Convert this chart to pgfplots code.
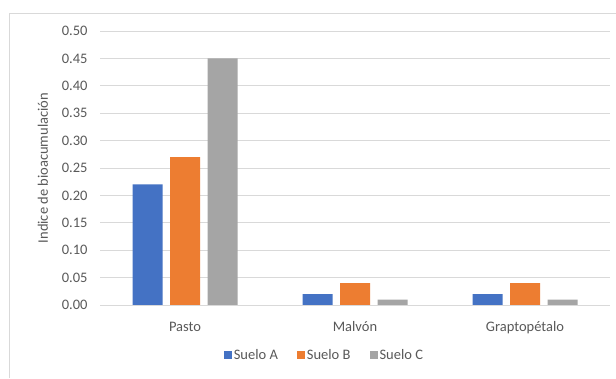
\documentclass[border=0pt]{standalone}
\usepackage{pgfplots}
\pgfplotsset{compat=1.18}
\usepackage{fontspec}
\setmainfont{Carlito}
\definecolor{sA}{HTML}{4472C4}
\definecolor{sB}{HTML}{ED7D31}
\definecolor{sC}{HTML}{A5A5A5}
\definecolor{txt}{HTML}{595959}
\definecolor{gridc}{HTML}{D9D9D9}
\begin{document}
\begin{tikzpicture}
\useasboundingbox (0,0) rectangle (616pt,378pt);
\fill[white] (0,0) rectangle (616pt,378pt);
\draw[gridc, line width=0.8pt] (9pt,0) -- (9pt,365pt) -- (616pt,365pt);
\begin{axis}[
  at={(100pt,73pt)}, anchor=south west,
  scale only axis, width=510pt, height=274pt,
  ybar=7.5pt, bar width=30pt,
  xmin=-0.5, xmax=2.5, ymin=0, ymax=0.5,
  xtick={0,1,2}, xticklabels={Pasto,Malvón,Graptopétalo},
  ytick={0,0.05,...,0.5},
  xtick style={draw=none}, ytick style={draw=none},
  axis line style={draw=none},
  ymajorgrids=true,
  y grid style={gridc, line width=0.8pt},
  font=\fontsize{14.5}{17}\selectfont,
  tick label style={text=txt},
  /pgf/number format/.cd, fixed, fixed zerofill, precision=2, assume math mode=true,
  /pgfplots/.cd,
  yticklabel style={xshift=-9pt},
  xticklabel style={yshift=-9pt},
  ylabel={Indice de bioacumulación},
  ylabel style={at={(axis description cs:-0.112,0.5)}, anchor=center, text=txt},
  legend columns=-1,
  legend style={draw=none, at={(0.44,-0.183)}, anchor=center, text=txt,
    font=\fontsize{14.5}{17}\selectfont,
    /tikz/every even column/.append style={column sep=17pt}},
  legend image code/.code={\fill[#1] (0pt,-4pt) rectangle (8pt,4pt);},
]
\addplot[fill=sA, draw=none] coordinates {(0,0.22) (1,0.02) (2,0.02)};
\addplot[fill=sB, draw=none] coordinates {(0,0.27) (1,0.04) (2,0.04)};
\addplot[fill=sC, draw=none] coordinates {(0,0.45) (1,0.01) (2,0.01)};
\draw[gridc, line width=0.8pt] (axis cs:-0.5,0) -- (axis cs:2.5,0);
\legend{Suelo A, Suelo B, Suelo C}
\end{axis}
\end{tikzpicture}
\end{document}
